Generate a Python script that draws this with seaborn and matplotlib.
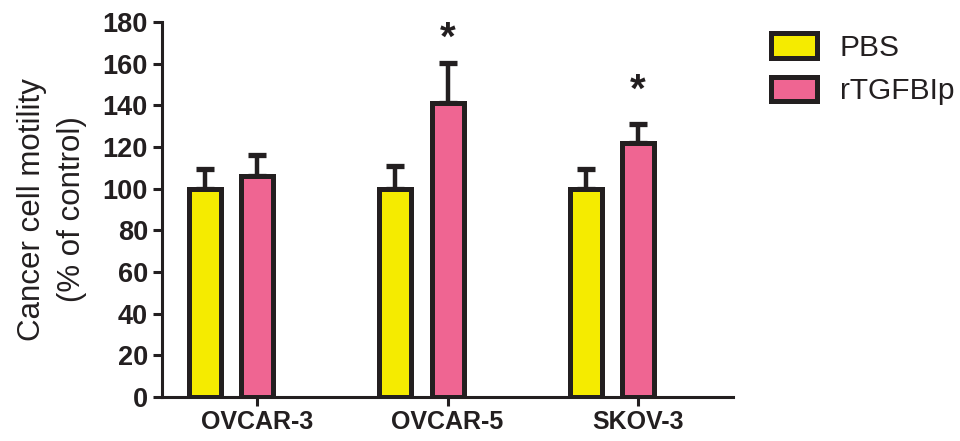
import numpy as np
import pandas as pd
import seaborn as sns
import matplotlib.pyplot as plt

# values (mean and upper error, % of control)
cell_lines = ['OVCAR-3', 'OVCAR-5', 'SKOV-3']
treatments = ['PBS', 'rTGFBIp']
pbs_mean = [100, 100, 100]
pbs_err = [9.4, 11, 9.4]
rtgf_mean = [106, 141, 122]
rtgf_err = [10, 19.5, 9]
significant = [False, True, True]
star_pad = [0, 17, 24]  # points above the error bar cap

colors = ['#f5eb00', '#ef6592']
ink = '#231f20'

df = pd.DataFrame({
    'line': cell_lines * 2,
    'treatment': [treatments[0]] * 3 + [treatments[1]] * 3,
    'motility': pbs_mean + rtgf_mean,
})

sns.set_style('ticks')
plt.rcParams['font.family'] = ['Liberation Sans', 'DejaVu Sans']
plt.rcParams['text.color'] = ink
plt.rcParams['axes.labelcolor'] = ink

fig = plt.figure(figsize=(9.6, 4.41), dpi=100)
ax = fig.add_axes([0.16875, 0.0998, 0.5948, 0.8503])

sns.barplot(data=df, x='line', y='motility', hue='treatment', palette=colors,
            saturation=1, width=0.548, gap=0.39, edgecolor=ink, linewidth=3.6,
            errorbar=None, ax=ax, zorder=3)

# upper-only error bars
for container, errs in zip(ax.containers, [pbs_err, rtgf_err]):
    xs = [p.get_x() + p.get_width() / 2 for p in container]
    ys = [p.get_height() for p in container]
    ax.errorbar(xs, ys, yerr=[np.zeros(len(errs)), errs], fmt='none',
                ecolor=ink, elinewidth=3.2, capsize=6.8, capthick=3.8, zorder=2)

# significance stars
for p, err, sig, pad in zip(ax.containers[1], rtgf_err, significant, star_pad):
    if sig:
        ax.annotate('*', xy=(p.get_x() + p.get_width() / 2, p.get_height() + err),
                    xytext=(0, pad), textcoords='offset points', ha='center',
                    va='center', fontsize=29, fontweight='bold', color=ink)

ax.set_ylim(0, 180)
ax.set_yticks(range(0, 181, 20))
ax.set_xlim(-0.362, 2.635)
ax.set_xticks([p.get_x() + p.get_width() / 2 for p in ax.containers[1]])
ax.set_xticklabels(cell_lines)
ax.set_xlabel('')
ax.set_ylabel('Cancer cell motility\n(% of control)', fontsize=22.5,
              linespacing=1.45, labelpad=11)

for s in ['top', 'right']:
    ax.spines[s].set_visible(False)
for s in ['left', 'bottom']:
    ax.spines[s].set_linewidth(2.2)
    ax.spines[s].set_color(ink)
ax.tick_params(axis='both', width=2.2, length=6.5, color=ink, labelcolor=ink)
ax.tick_params(axis='y', labelsize=19.5, pad=3.6)
ax.tick_params(axis='x', labelsize=18, pad=3)
for lab in ax.get_xticklabels() + ax.get_yticklabels():
    lab.set_fontweight('bold')

handles, labels = ax.get_legend_handles_labels()
ax.legend(handles, labels, loc='upper left', bbox_to_anchor=(771 / 960, 1 - 33 / 441),
          bbox_transform=fig.transFigure, frameon=False, fontsize=21.5,
          handlelength=1.55, handleheight=0.9, handletextpad=0.76,
          labelspacing=0.5, borderpad=0, borderaxespad=0)

fig.savefig('out.png', dpi=100)
